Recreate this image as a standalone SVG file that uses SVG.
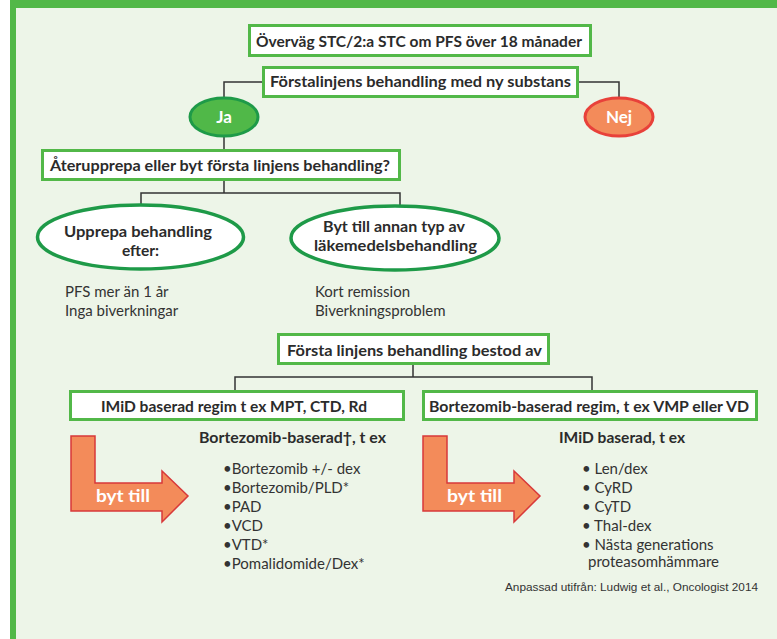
<svg xmlns="http://www.w3.org/2000/svg" width="777" height="639" viewBox="0 0 777 639">
<style>
.box{fill:#ffffff;stroke:#52B848;stroke-width:3}
.ell{fill:#ffffff;stroke:#1E9A48;stroke-width:3.5}
.conn{fill:none;stroke:#333333;stroke-width:1.5}
.arrow{fill:#F38B5A;stroke:#D8393A;stroke-width:1.5;stroke-linejoin:miter}
.b{font-family:Lato,"Liberation Sans",sans-serif;font-weight:bold;font-size:15.5px;fill:#2B2B2B}
.r{font-family:Lato,"Liberation Sans",sans-serif;font-size:15px;fill:#333333}
.w{font-family:Lato,"Liberation Sans",sans-serif;font-weight:bold;font-size:17px;fill:#ffffff}
.s{font-family:"Liberation Sans",sans-serif;font-size:10.5px;fill:#333333}
</style>
<rect x="0" y="0" width="777" height="639" fill="#ffffff"/>
<rect x="10" y="0" width="767" height="639" fill="#EDF5E8"/>
<rect x="10" y="0" width="767" height="8" fill="#52B848"/>
<rect x="10" y="0" width="6" height="639" fill="#52B848"/>

<g id="connectors">
<path class="conn" d="M262 82 H224 V97"/>
<path class="conn" d="M579 82 H619 V97"/>
<path class="conn" d="M224 137 V149"/>
<path class="conn" d="M224 181 V193 M141 205 V193 H400 V205"/>
<path class="conn" d="M413 365 V377 M235 390 V377 H592 V390"/>
</g>

<g id="n1">
<rect class="box" x="249.5" y="25.5" width="341" height="30"/>
<text class="b" x="256" y="47" textLength="326" lengthAdjust="spacingAndGlyphs">Överväg STC/2:a STC om PFS över 18 månader</text>
</g>
<g id="n2">
<rect class="box" x="263.5" y="67.5" width="314" height="29"/>
<text class="b" x="270" y="87" textLength="301" lengthAdjust="spacingAndGlyphs">Förstalinjens behandling med ny substans</text>
</g>
<g id="ja">
<ellipse cx="224" cy="117" rx="34" ry="19" fill="#50B848" stroke="#1E9A48" stroke-width="3"/>
<text class="w" x="224" y="123" text-anchor="middle">Ja</text>
</g>
<g id="nej">
<ellipse cx="619" cy="117" rx="34" ry="19" fill="#F38B5A" stroke="#E8413A" stroke-width="3"/>
<text class="w" x="619" y="123" text-anchor="middle">Nej</text>
</g>
<g id="n3">
<rect class="box" x="42.5" y="150.5" width="357" height="29"/>
<text class="b" x="50" y="171" textLength="340" lengthAdjust="spacingAndGlyphs">Återupprepa eller byt första linjens behandling?</text>
</g>
<g id="upprepa">
<ellipse class="ell" cx="140.5" cy="237" rx="103" ry="32"/>
<text class="b" x="64" y="237" textLength="148" lengthAdjust="spacingAndGlyphs">Upprepa behandling</text>
<text class="b" x="140.5" y="256" text-anchor="middle">efter:</text>
</g>
<g id="byt">
<ellipse class="ell" cx="395" cy="238" rx="104" ry="32"/>
<text class="b" x="323" y="232" textLength="142" lengthAdjust="spacingAndGlyphs">Byt till annan typ av</text>
<text class="b" x="314" y="251" textLength="163" lengthAdjust="spacingAndGlyphs">läkemedelsbehandling</text>
</g>
<g id="t-upprepa">
<text class="r" x="65" y="297">PFS mer än 1 år</text>
<text class="r" x="65" y="316">Inga biverkningar</text>
</g>
<g id="t-byt">
<text class="r" x="315" y="297">Kort remission</text>
<text class="r" x="315" y="316">Biverkningsproblem</text>
</g>
<g id="n4">
<rect class="box" x="278.5" y="334.5" width="270" height="29"/>
<text class="b" x="287" y="356" textLength="255" lengthAdjust="spacingAndGlyphs">Första linjens behandling bestod av</text>
</g>
<g id="n5">
<rect class="box" x="70.5" y="391.5" width="333" height="28"/>
<text class="b" x="101" y="412" textLength="266" lengthAdjust="spacingAndGlyphs">IMiD baserad regim t ex MPT, CTD, Rd</text>
</g>
<g id="n6">
<rect class="box" x="423.5" y="391.5" width="333" height="28"/>
<text class="b" x="429" y="412" textLength="320" lengthAdjust="spacingAndGlyphs">Bortezomib-baserad regim, t ex VMP eller VD</text>
</g>
<g id="arrow1">
<path class="arrow" d="M71 436 H95 V483 H162 V471 L188 496 L162 522 V511 H71 Z"/>
<text class="w" x="96" y="502" textLength="54" lengthAdjust="spacingAndGlyphs">byt till</text>
</g>
<g id="arrow2">
<path class="arrow" d="M423 436 H447 V483 H514 V471 L540 496 L514 522 V511 H423 Z"/>
<text class="w" x="447" y="502" textLength="55" lengthAdjust="spacingAndGlyphs">byt till</text>
</g>
<g id="list1">
<text class="b" x="199" y="443" textLength="187" lengthAdjust="spacingAndGlyphs">Bortezomib-baserad†, t ex</text>
<text class="r" x="223" y="474">•Bortezomib +/- dex</text>
<text class="r" x="223" y="493">•Bortezomib/PLD*</text>
<text class="r" x="223" y="512">•PAD</text>
<text class="r" x="223" y="531">•VCD</text>
<text class="r" x="223" y="550">•VTD*</text>
<text class="r" x="223" y="569">•Pomalidomide/Dex*</text>
</g>
<g id="list2">
<text class="b" x="559" y="443" textLength="126" lengthAdjust="spacingAndGlyphs">IMiD baserad, t ex</text>
<text class="r" x="582" y="474">• Len/dex</text>
<text class="r" x="582" y="493">• CyRD</text>
<text class="r" x="582" y="512">• CyTD</text>
<text class="r" x="582" y="531">• Thal-dex</text>
<text class="r" x="582" y="550">• Nästa generations</text>
<text class="r" x="588" y="567">proteasomhämmare</text>
</g>
<text class="s" x="505" y="591" textLength="253" lengthAdjust="spacingAndGlyphs">Anpassad utifrån: Ludwig et al., Oncologist 2014</text>
</svg>
